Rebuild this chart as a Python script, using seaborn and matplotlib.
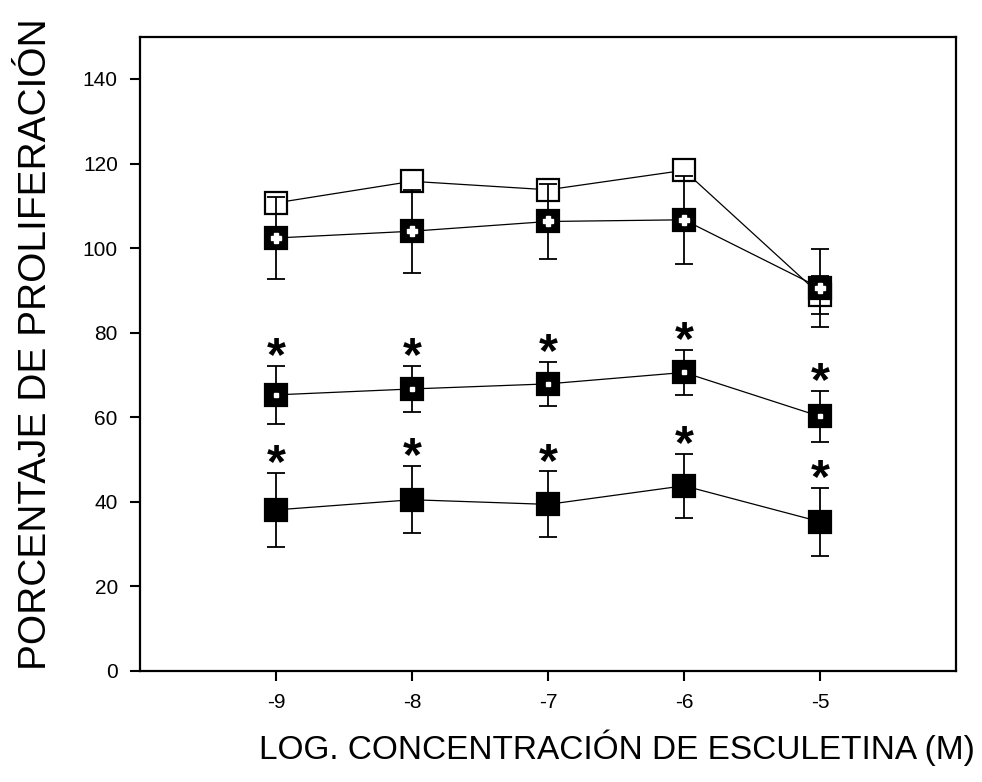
import matplotlib
matplotlib.use("Agg")
import matplotlib.pyplot as plt
import seaborn as sns
import pandas as pd

# ---- data ----
x_log = [-9, -8, -7, -6, -5]
open_mean = [110.7, 115.8, 113.8, 118.4, 89.0]
open_err = [2.0, 2.0, 2.0, 2.0, 4.5]
cross_mean = [102.4, 104.0, 106.3, 106.7, 90.6]
cross_err = [9.6, 9.8, 8.9, 10.4, 9.2]
dot_mean = [65.3, 66.7, 67.9, 70.6, 60.2]
dot_err = [6.8, 5.5, 5.2, 5.3, 6.0]
solid_mean = [38.1, 40.5, 39.4, 43.8, 35.3]
solid_err = [8.7, 7.9, 7.8, 7.6, 8.0]
dot_sig = [True, True, True, True, True]
solid_sig = [True, True, True, True, True]

x_ticks = [-9, -8, -7, -6, -5]
y_ticks = [0, 20, 40, 60, 80, 100, 120, 140]
x_label = "LOG. CONCENTRACIÓN DE ESCULETINA (M)"
y_label = "PORCENTAJE DE PROLIFERACIÓN"

sns.set_style("white")
plt.rcParams["font.family"] = ["Liberation Sans", "DejaVu Sans"]
plt.rcParams["text.color"] = "black"
plt.rcParams["axes.labelcolor"] = "black"
plt.rcParams["xtick.color"] = "black"
plt.rcParams["ytick.color"] = "black"

fig = plt.figure(figsize=(9.82, 7.82), dpi=100)
ax = fig.add_axes([140 / 982, 1 - 671 / 782, 816 / 982, 634.3 / 782])

series = [
    (open_mean, open_err, "white"),
    (cross_mean, cross_err, "black"),
    (dot_mean, dot_err, "black"),
    (solid_mean, solid_err, "black"),
]

z = 2
for mean, err, face in series:
    df = pd.DataFrame({"x": x_log, "y": mean})
    ax.errorbar(x_log, mean, yerr=err, fmt="none", ecolor="black",
                elinewidth=1.3, capsize=6.5, capthick=1.3, zorder=z)
    sns.lineplot(data=df, x="x", y="y", ax=ax, color="black", linewidth=0.9,
                 marker="s", markersize=16, markerfacecolor=face,
                 markeredgecolor="black", markeredgewidth=1.6, zorder=z + 1)
    z += 2

# white inner symbols
ax.plot(x_log, cross_mean, linestyle="none", marker="P", markersize=7.5,
        markerfacecolor="white", markeredgecolor="white", zorder=5)
ax.plot(x_log, dot_mean, linestyle="none", marker="s", markersize=2.5,
        markerfacecolor="white", markeredgecolor="white", zorder=7)

# significance asterisks
for mean, err, sig in [(dot_mean, dot_err, dot_sig), (solid_mean, solid_err, solid_sig)]:
    for xi, m, e, s in zip(x_log, mean, err, sig):
        if s:
            ax.annotate("*", xy=(xi, m + e), xytext=(0, -3), textcoords="offset points",
                        ha="center", va="baseline", fontsize=35, fontweight="bold",
                        color="black", zorder=10)

ax.set_xlim(-10, -4)
ax.set_ylim(0, 150)
ax.set_xticks(x_ticks)
ax.set_xticklabels([str(t) for t in x_ticks])
ax.set_yticks(y_ticks)
ax.set_yticklabels([str(t) for t in y_ticks])
ax.tick_params(axis="both", direction="out", length=7, width=1.5, pad=9,
               labelsize=15, colors="black", bottom=True, left=True)
for sp in ax.spines.values():
    sp.set_visible(True)
    sp.set_color("black")
    sp.set_linewidth(1.6)

ax.set_xlabel(x_label, fontsize=24)
ax.set_ylabel(y_label, fontsize=28)
ax.xaxis.set_label_coords(0.585, -0.092)
ax.yaxis.set_label_coords(-0.106, 0.515)

fig.savefig("out.png", dpi=100, facecolor="white")
